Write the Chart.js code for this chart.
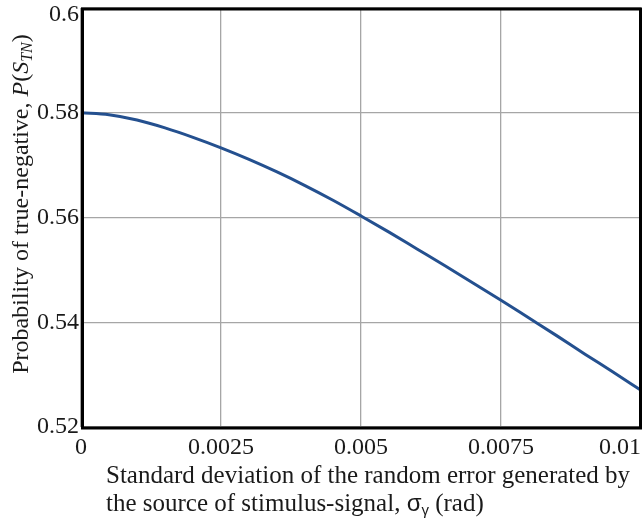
<!DOCTYPE html>
<html>
<head>
<meta charset="utf-8">
<script src="https://cdn.jsdelivr.net/npm/chart.js@4"></script>
<style>
  html, body { margin: 0; padding: 0; background: #fff; overflow: hidden; }
  #wrap { width: 642px; height: 521px; position: relative; }
</style>
</head>
<body>
<div id="wrap"><canvas id="chart"></canvas></div>
<script>
// Standard deviation of the random error (rad)
const sigmaValues = [0, 0.0005, 0.001, 0.0015, 0.002, 0.0025, 0.003, 0.0035, 0.004, 0.0045,
    0.005, 0.0055, 0.006, 0.0065, 0.007, 0.0075, 0.008, 0.0085, 0.009, 0.0095, 0.01];
// Probability of true-negative
const probValues = [0.5800, 0.5796, 0.5786, 0.5771, 0.5753, 0.5733, 0.5711, 0.5687, 0.5661, 0.5633,
    0.5603, 0.5572, 0.5540, 0.5508, 0.5475, 0.5442, 0.5408, 0.5374, 0.5339, 0.5305, 0.5270];

const xTickLabels = ['0', '0.0025', '0.005', '0.0075', '0.01'];
const yTickLabels = ['0.52', '0.54', '0.56', '0.58', '0.6'];

const SERIF = '"Liberation Serif", "Times New Roman", serif';
const SANS = '"Liberation Sans", Arial, sans-serif';
const TICK_FONT = '24px ' + SERIF;

// draw a list of text runs starting at (x, y), left to right
const drawRuns = (ctx, runs, x, y) => {
    let cx = x;
    runs.forEach(r => {
        ctx.font = r.font;
        ctx.fillText(r.text, cx, y + (r.dy || 0));
        cx += ctx.measureText(r.text).width;
    });
    return cx - x;
};
const runsWidth = (ctx, runs) => {
    let w = 0;
    runs.forEach(r => { ctx.font = r.font; w += ctx.measureText(r.text).width; });
    return w;
};

const frameAndLabels = {
    id: 'frameAndLabels',
    afterDraw(chart) {
        const { ctx, chartArea, scales } = chart;
        const xs = scales.x, ys = scales.y;
        ctx.save();

        // heavy frame round the plot area
        ctx.strokeStyle = '#000';
        ctx.lineWidth = 3;
        ctx.strokeRect(chartArea.left + 1.5, chartArea.top + 1, chartArea.right - chartArea.left - 2,
            chartArea.bottom - chartArea.top);

        ctx.fillStyle = '#1a1a1a';
        ctx.font = TICK_FONT;
        ctx.textBaseline = 'middle';

        // x tick labels, last one kept inside the canvas
        xTickLabels.forEach((lbl, i) => {
            const px = xs.getPixelForValue(Number(lbl));
            if (i === xTickLabels.length - 1) {
                ctx.textAlign = 'right';
                ctx.fillText(lbl, chart.width - 1, 448);
            } else {
                ctx.textAlign = 'center';
                ctx.fillText(lbl, px, 448);
            }
        });

        // y tick labels
        ctx.textAlign = 'right';
        yTickLabels.forEach(lbl => {
            const py = ys.getPixelForValue(Number(lbl));
            ctx.fillText(lbl, 79, Math.max(py, 15));
        });

        // x axis title, two lines
        ctx.textAlign = 'left';
        ctx.textBaseline = 'alphabetic';
        const tf = '25px ' + SERIF;
        drawRuns(ctx, [{ text: 'Standard deviation of the random error generated by', font: tf }], 106, 483);
        drawRuns(ctx, [
            { text: 'the source of stimulus-signal, ', font: tf },
            { text: 'σ', font: '24px ' + SANS },
            { text: 'γ', font: '15px ' + SANS, dy: 4 },
            { text: ' (rad)', font: tf }
        ], 106, 511);

        // y axis title, rotated
        const yf = '24px ' + SERIF;
        const yRuns = [
            { text: 'Probability of true-negative, ', font: yf },
            { text: 'P', font: 'italic ' + yf },
            { text: '(', font: yf },
            { text: 'S', font: 'italic ' + yf },
            { text: 'TN', font: 'italic 16px ' + SERIF, dy: 4 },
            { text: ')', font: yf }
        ];
        const w = runsWidth(ctx, yRuns);
        ctx.translate(28, 204);
        ctx.rotate(-Math.PI / 2);
        drawRuns(ctx, yRuns, -w / 2, 0);

        ctx.restore();
    }
};

new Chart(document.getElementById('chart'), {
    type: 'line',
    data: {
        datasets: [{
            data: sigmaValues.map((s, i) => ({ x: s, y: probValues[i] })),
            borderColor: '#24508f',
            borderWidth: 3,
            pointRadius: 0,
            cubicInterpolationMode: 'monotone',
            fill: false
        }]
    },
    options: {
        responsive: true,
        maintainAspectRatio: false,
        animation: false,
        layout: { padding: { top: 8, right: 1, left: 0, bottom: 0 } },
        plugins: { legend: { display: false }, tooltip: { enabled: false } },
        scales: {
            x: {
                type: 'linear',
                min: 0,
                max: 0.01,
                ticks: { display: false, stepSize: 0.0025 },
                grid: { color: '#a6a6a6', lineWidth: 1.3, drawTicks: false },
                border: { display: false },
                afterFit(scale) {
                    scale.height = 94;
                    scale.paddingLeft = 0;
                    scale.paddingRight = 0;
                }
            },
            y: {
                min: 0.52,
                max: 0.6,
                ticks: { display: false, stepSize: 0.02 },
                grid: { color: '#a6a6a6', lineWidth: 1.3, drawTicks: false },
                border: { display: false },
                afterFit(scale) {
                    scale.width = 81;
                    scale.paddingTop = 0;
                    scale.paddingBottom = 0;
                }
            }
        }
    },
    plugins: [frameAndLabels]
});
</script>
</body>
</html>
